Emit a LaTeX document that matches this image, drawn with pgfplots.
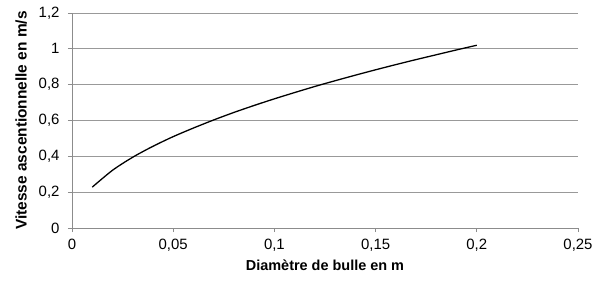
\documentclass[border=0pt]{standalone}
\usepackage{fontspec}
\setmainfont{Liberation Sans}
\usepackage{pgfplots}
\pgfplotsset{compat=1.18}
\begin{document}
\begin{tikzpicture}
\begin{axis}[
  scale only axis, width=506bp, height=215bp,
  xmin=0, xmax=0.25, ymin=0, ymax=1.2,
  xtick={0,0.05,0.1,0.15,0.2,0.25},
  xticklabels={0,{0,05},{0,1},{0,15},{0,2},{0,25}},
  ytick={0,0.2,0.4,0.6,0.8,1,1.2},
  yticklabels={0,{0,2},{0,4},{0,6},{0,8},1,{1,2}},
  axis x line=bottom, axis y line=left,
  axis line style={-, black!45, line width=0.8pt},
  ymajorgrids, grid style={black!40, line width=0.8pt},
  tick style={black!45, line width=0.8pt}, tick align=outside, major tick length=4bp,
  ticklabel style={font=\fontsize{15}{17}\selectfont},
  xticklabel style={yshift=-4bp},
  yticklabel style={xshift=-5bp},
  xlabel={Diamètre de bulle en m},
  ylabel={Vitesse ascentionnelle en m/s},
  xlabel style={font=\bfseries\fontsize{14.5}{16}\selectfont, yshift=-1bp},
  ylabel style={font=\bfseries\fontsize{15.5}{17}\selectfont, yshift=5bp},
]
\addplot[black, line width=1.3pt, mark=none, smooth] coordinates {
(0.01,0.228) (0.02,0.322) (0.03,0.395) (0.04,0.456) (0.05,0.510)
(0.06,0.558) (0.07,0.603) (0.08,0.645) (0.09,0.684) (0.10,0.721)
(0.11,0.756) (0.12,0.790) (0.13,0.822) (0.14,0.853) (0.15,0.883)
(0.16,0.912) (0.17,0.940) (0.18,0.967) (0.19,0.994) (0.20,1.020)
};
\end{axis}
\pgfresetboundingbox
\useasboundingbox ([shift={(-72bp,-65bp)}]current axis.south west) rectangle ++(608bp,293bp);
\end{tikzpicture}
\end{document}
